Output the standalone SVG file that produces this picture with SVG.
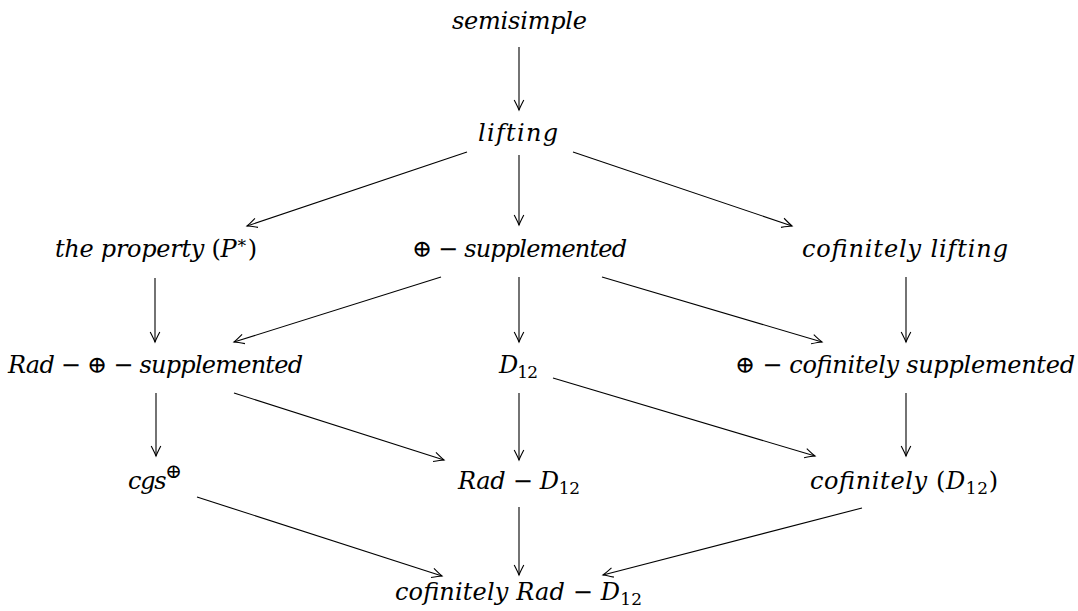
<svg xmlns="http://www.w3.org/2000/svg" width="1078" height="611" viewBox="0 0 1078 611">
<style>
.t{font-family:'DejaVu Serif','Liberation Serif',serif;font-size:24px;font-style:italic;fill:#000}
.u{font-style:normal}
.s{font-style:normal;font-size:17px}
.e{stroke:#000;stroke-width:1.1;fill:none;marker-end:url(#ah)}
</style>
<defs>
<marker id="ah" markerUnits="userSpaceOnUse" orient="auto" overflow="visible" markerWidth="12" markerHeight="12" refX="0" refY="0">
<path d="M-10,-4.8 Q-3.5,-1.4 0,0 Q-3.5,1.4 -10,4.8" fill="none" stroke="#000" stroke-width="1.1"/>
</marker>
</defs>
<rect width="1078" height="611" fill="#fff"/>
<g id="connectors">
<line class="e" x1="519" y1="47" x2="519" y2="110"/>
<line class="e" x1="467" y1="152" x2="247" y2="226"/>
<line class="e" x1="519" y1="155" x2="519" y2="225"/>
<line class="e" x1="573" y1="152" x2="792" y2="226"/>
<line class="e" x1="155" y1="278" x2="155" y2="342"/>
<line class="e" x1="441" y1="277" x2="234" y2="342"/>
<line class="e" x1="519" y1="277" x2="519" y2="342"/>
<line class="e" x1="602" y1="277" x2="822" y2="342"/>
<line class="e" x1="906" y1="277" x2="906" y2="342"/>
<line class="e" x1="156" y1="393" x2="156" y2="456"/>
<line class="e" x1="234" y1="393" x2="444" y2="460"/>
<line class="e" x1="519" y1="393" x2="519" y2="460"/>
<line class="e" x1="553" y1="378" x2="815" y2="456"/>
<line class="e" x1="906" y1="393" x2="906" y2="456"/>
<line class="e" x1="197" y1="497" x2="442" y2="576"/>
<line class="e" x1="519" y1="507" x2="519" y2="575"/>
<line class="e" x1="862" y1="508" x2="603" y2="575"/>
</g>
<g id="semisimple"><text class="t" x="452" y="29" textLength="135" lengthAdjust="spacing">semisimple</text></g>
<g id="lifting"><text class="t" x="478" y="141" textLength="80" lengthAdjust="spacing">lifting</text></g>
<g id="property"><text class="t" x="55" y="257" textLength="202" lengthAdjust="spacing">the property <tspan class="u">(</tspan>P<tspan class="s" dy="-9">∗</tspan><tspan class="u" dy="9">)</tspan></text></g>
<g id="dsupp"><text class="t" x="412" y="257" textLength="215" lengthAdjust="spacing"><tspan class="u">⊕ − </tspan>supplemented</text></g>
<g id="coflifting"><text class="t" x="802" y="257" textLength="206" lengthAdjust="spacing">cofinitely lifting</text></g>
<g id="raddsupp"><text class="t" x="8" y="373" textLength="295" lengthAdjust="spacing">Rad<tspan class="u"> − ⊕ − </tspan>supplemented</text></g>
<g id="d12"><text class="t" x="499" y="373" textLength="39" lengthAdjust="spacing">D<tspan class="s" dy="5">12</tspan></text></g>
<g id="dcofsupp"><text class="t" x="735" y="373" textLength="340" lengthAdjust="spacing"><tspan class="u">⊕ − </tspan>cofinitely supplemented</text></g>
<g id="cgs"><text class="t" x="128" y="489" textLength="54" lengthAdjust="spacing">cgs<tspan class="u" font-size="20" dy="-11">⊕</tspan></text></g>
<g id="radd12"><text class="t" x="458" y="489" textLength="122" lengthAdjust="spacing">Rad<tspan class="u"> − </tspan>D<tspan class="s" dy="5">12</tspan></text></g>
<g id="cofd12"><text class="t" x="810" y="489" textLength="188" lengthAdjust="spacing">cofinitely <tspan class="u">(</tspan>D<tspan class="s" dy="5">12</tspan><tspan class="u" dy="-5">)</tspan></text></g>
<g id="cofradd12"><text class="t" x="395" y="600" textLength="247" lengthAdjust="spacing">cofinitely Rad<tspan class="u"> − </tspan>D<tspan class="s" dy="5">12</tspan></text></g>
</svg>
